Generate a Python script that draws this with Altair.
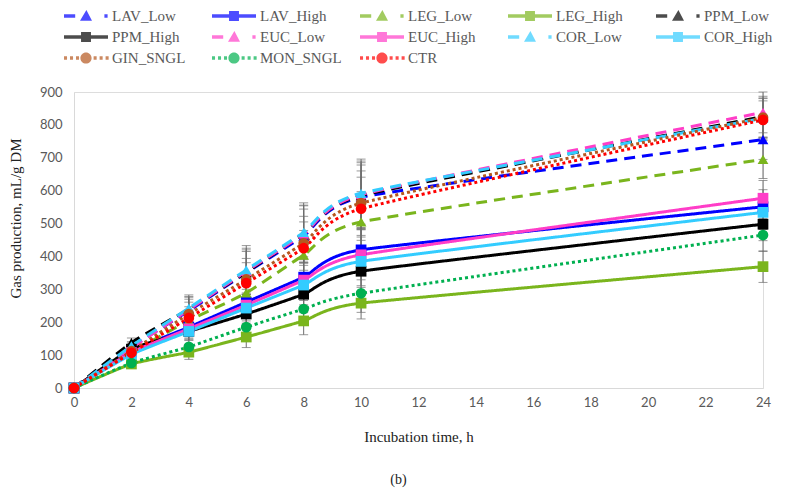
import altair as alt
import pandas as pd

# ---- data ----
times = [0, 2, 4, 6, 8, 10, 24]
series_names = ["LAV_Low", "LAV_High", "LEG_Low", "LEG_High", "PPM_Low",
                "PPM_High", "EUC_Low", "EUC_High", "COR_Low", "COR_High",
                "GIN_SNGL", "MON_SNGL", "CTR"]

LAV_Low = [0, 125, 235, 350, 462, 580, 755]
LAV_High = [0, 112, 185, 261, 337, 420, 551]
LEG_Low = [0, 108, 205, 289, 404, 505, 695]
LEG_High = [0, 73, 109, 155, 204, 258, 369]
PPM_Low = [0, 138, 240, 352, 468, 585, 825]
PPM_High = [0, 118, 172, 225, 285, 355, 498]
EUC_Low = [0, 122, 238, 355, 468, 588, 838]
EUC_High = [0, 108, 180, 252, 328, 405, 577]
COR_Low = [0, 128, 243, 359, 473, 592, 820]
COR_High = [0, 102, 172, 243, 313, 385, 534]
GIN_SNGL = [0, 112, 225, 330, 440, 562, 822]
MON_SNGL = [0, 76, 125, 185, 240, 288, 465]
CTR = [0, 107, 213, 319, 425, 545, 815]

# standard errors (error-bar half lengths)
LAV_Low_se = [0, 12, 35, 65, 82, 98, 60]
LAV_High_se = [0, 10, 28, 48, 62, 78, 52]
LEG_Low_se = [0, 10, 32, 58, 75, 92, 58]
LEG_High_se = [0, 8, 22, 32, 42, 48, 48]
PPM_Low_se = [0, 14, 38, 68, 86, 100, 62]
PPM_High_se = [0, 11, 26, 44, 56, 70, 50]
EUC_Low_se = [0, 12, 38, 70, 88, 102, 62]
EUC_High_se = [0, 10, 28, 48, 62, 76, 54]
COR_Low_se = [0, 13, 40, 74, 90, 104, 60]
COR_High_se = [0, 10, 27, 46, 60, 74, 52]
GIN_SNGL_se = [0, 11, 36, 64, 82, 98, 60]
MON_SNGL_se = [0, 8, 24, 38, 48, 58, 50]
CTR_se = [0, 10, 34, 62, 80, 96, 58]

values = [LAV_Low, LAV_High, LEG_Low, LEG_High, PPM_Low, PPM_High, EUC_Low,
          EUC_High, COR_Low, COR_High, GIN_SNGL, MON_SNGL, CTR]
ses = [LAV_Low_se, LAV_High_se, LEG_Low_se, LEG_High_se, PPM_Low_se, PPM_High_se,
       EUC_Low_se, EUC_High_se, COR_Low_se, COR_High_se, GIN_SNGL_se, MON_SNGL_se, CTR_se]

colors = ["#0000FF", "#0000FF", "#7AB51D", "#7AB51D", "#000000", "#000000",
          "#FF3DC8", "#FF3DC8", "#33CCFF", "#33CCFF", "#B5571E", "#00B050", "#FF0000"]

kinds = ["low", "high", "low", "high", "low", "high", "low", "high", "low", "high",
         "dot", "dot", "dot"]

# ---- styles ----
dash_for = {"low": [11, 7], "high": [1, 0], "dot": [3, 3]}
shape_for = {"low": "triangle-up", "high": "square", "dot": "circle"}

def rect(x0, x1, h):
    return f"M{x0} {-h}L{x1} {-h}L{x1} {h}L{x0} {h}Z"

lh = 0.22
legend_path = {
    "high": rect(-2.75, 2.75, lh) + "M-0.62 -0.62L0.62 -0.62L0.62 0.62L-0.62 0.62Z",
    "low": rect(-2.75, -1.35, lh) + "M-0.75 0.6L0.75 0.6L0.05 -0.75Z" + rect(2.3, 2.7, lh),
    "dot": "".join(rect(a, a + 0.38, lh) for a in [-2.75, -2.0, -1.25])
           + "M-0.7 0A0.7 0.7 0 1 0 0.7 0A0.7 0.7 0 1 0 -0.7 0Z"
           + "".join(rect(a, a + 0.38, lh) for a in [0.95, 1.7, 2.45]),
}

rows = []
for i, (name, vals, se) in enumerate(zip(series_names, values, ses)):
    for t, v, s in zip(times, vals, se):
        rows.append({"series": name, "idx": i, "t": t, "v": v, "lo": v - s, "hi": v + s})
df = pd.DataFrame(rows)

FONT = "Lato"
SERIF = "Liberation Serif"
GREY = "#595959"

x_scale = alt.Scale(domain=[0, 24], nice=False)
x_axis = alt.Axis(values=list(range(0, 25, 2)), title="Incubation time, h",
                  ticks=False, grid=False, domainColor="#D9D9D9",
                  labelColor=GREY, labelFont=FONT, labelFontSize=13,
                  labelFlush=False, labelOverlap=False, labelPadding=8,
                  titleFont=SERIF, titleFontSize=15, titleFontWeight="normal",
                  titleColor="#222222", titlePadding=20)
y_scale = alt.Scale(domain=[0, 900], nice=False, zero=True)
y_axis = alt.Axis(values=list(range(0, 901, 100)), title="Gas production, mL/g DM",
                  ticks=False, grid=False, domainColor="#D9D9D9",
                  labelColor=GREY, labelFont=FONT, labelFontSize=13,
                  labelFlush=False, labelOverlap=False, labelPadding=12,
                  titleFont=SERIF, titleFontSize=15, titleFontWeight="normal",
                  titleColor="#222222", titleX=-59, titleY=126,
                  titleBaseline="middle", titleAlign="center")

def cscale():
    return alt.Scale(domain=series_names, range=colors)

base = alt.Chart(df)
eb = base.transform_filter("datum.t > 0")

ERR = "#6E6E6E"
err_rule = eb.mark_rule(color=ERR, strokeWidth=1).encode(
    x=alt.X("t:Q", scale=x_scale, axis=x_axis),
    y=alt.Y("lo:Q", scale=y_scale, axis=y_axis), y2="hi:Q")
err_lo = eb.mark_tick(color=ERR, thickness=1, size=9, orient="horizontal").encode(
    x=alt.X("t:Q", scale=x_scale, axis=x_axis),
    y=alt.Y("lo:Q", scale=y_scale, axis=y_axis))
err_hi = eb.mark_tick(color=ERR, thickness=1, size=9, orient="horizontal").encode(
    x=alt.X("t:Q", scale=x_scale, axis=x_axis),
    y=alt.Y("hi:Q", scale=y_scale, axis=y_axis))

lines = base.mark_line(strokeWidth=3, interpolate="cardinal", tension=0.5).encode(
    x=alt.X("t:Q", scale=x_scale, axis=x_axis),
    y=alt.Y("v:Q", scale=y_scale, axis=y_axis),
    color=alt.Color("series:N", scale=cscale(), legend=None),
    strokeDash=alt.StrokeDash("series:N", scale=alt.Scale(
        domain=series_names, range=[dash_for[k] for k in kinds]), legend=None),
    order="t:Q",
)

points = base.mark_point(filled=True, size=115, opacity=1).encode(
    x=alt.X("t:Q", scale=x_scale, axis=x_axis),
    y=alt.Y("v:Q", scale=y_scale, axis=y_axis),
    color=alt.Color("series:N", scale=cscale(), legend=None),
    shape=alt.Shape("series:N", scale=alt.Scale(
        domain=series_names, range=[shape_for[k] for k in kinds]), legend=None),
    order="idx:Q",
)

leg = alt.Legend(title=None, orient="none", legendX=4, legendY=-84, columns=5,
                 direction="horizontal", gridAlign="all", columnPadding=18,
                 rowPadding=5, symbolSize=256, labelOffset=18,
                 labelFont=SERIF, labelFontSize=15, labelColor=GREY,
                 symbolStrokeWidth=0, padding=0, labelLimit=200)

legend_layer = base.transform_filter("datum.t < 0").mark_point(
    filled=True, size=256).encode(
    x=alt.X("t:Q", scale=x_scale, axis=x_axis),
    y=alt.Y("v:Q", scale=y_scale, axis=y_axis),
    color=alt.Color("series:N", scale=cscale(), legend=leg),
    shape=alt.Shape("series:N", scale=alt.Scale(
        domain=series_names, range=[legend_path[k] for k in kinds]), legend=leg),
)

chart = alt.layer(err_rule, err_lo, err_hi, lines, points, legend_layer).resolve_scale(
    color="independent", shape="independent"
).properties(
    width=689, height=296,
    padding={"left": 74, "top": 92, "right": 24, "bottom": 107},
    autosize=alt.AutoSizeParams(type="none"),
    title=alt.TitleParams("(b)", orient="bottom", anchor="middle", offset=29, dx=-20,
                          font=SERIF, fontSize=14, fontWeight="normal", color="#222222"),
).configure_view(stroke=None).configure(background="white")

chart.save("out.html", embed_options={"renderer": "svg", "actions": False})
